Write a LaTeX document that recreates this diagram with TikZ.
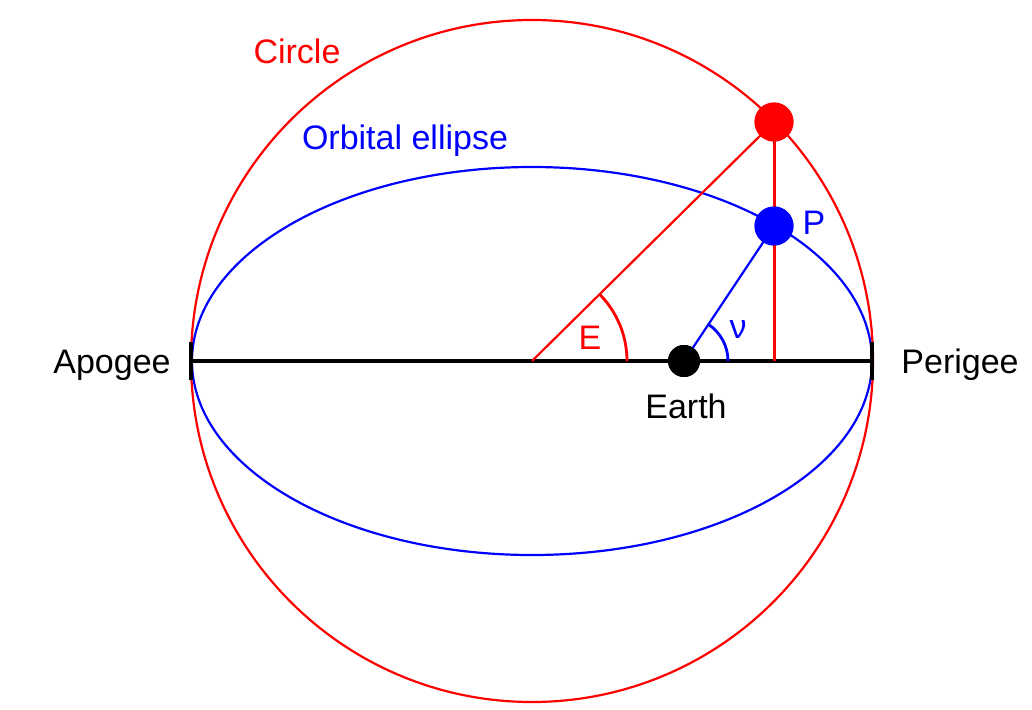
\documentclass[tikz,border=0pt]{standalone}
\usepackage{fontspec}
\setmainfont{Liberation Sans}
\begin{document}
\begin{tikzpicture}[x=0.5pt,y=0.5pt,
  lbl/.style={font=\fontsize{17}{20}\selectfont, inner sep=0pt, anchor=base},
  dot/.style={circle, inner sep=0pt, minimum size=19.5pt},
  thin line/.style={line width=1.1pt}]
\useasboundingbox (0,0) rectangle (1032,709);
% key points
\coordinate (O) at (532,348);
\coordinate (A) at (191,348);
\coordinate (Pe) at (872,348);
\coordinate (F) at (774,348);
% circle and ellipse
\draw[red, thin line] (O) circle[radius=170.5pt];
\draw[blue, thin line] (O) ellipse[x radius=170pt, y radius=97pt];
% nodes (dots)
\node[dot, fill=red] (R) at (774,587) {};
\node[dot, fill=blue] (P) at (774,483) {};
\node[dot, fill=black, minimum size=16pt] (Ea) at (684,348) {};
% major axis
\draw[line width=1.6pt] (A) -- (Pe);
\draw[line width=1.6pt] ([yshift=-9.5pt]A) -- ([yshift=9.5pt]A);
\draw[line width=1.6pt] ([yshift=-9.5pt]Pe) -- ([yshift=9.5pt]Pe);
% connectors
\draw[red, thin line] (O) -- (R.center);
\draw[red, line width=1.5pt] (R.center) -- (F);
\draw[blue, thin line] (Ea.center) -- (P.center);
% redraw dots on top
\node[dot, fill=red] at (R) {};
\node[dot, fill=blue] at (P) {};
\node[dot, fill=black, minimum size=16pt] at (Ea) {};
% angle arcs
\draw[red, line width=1.4pt] ([xshift=47.5pt]O) arc[start angle=0, end angle=44.6, radius=47.5pt];
\draw[blue, line width=1.4pt] ([xshift=22pt]Ea.center) arc[start angle=0, end angle=56.5, radius=22pt];
% labels
\node[lbl, red] (lc) at (297,646) {Circle};
\node[lbl, blue] (le) at (405,560) {Orbital ellipse};
\node[lbl] (la) at (112,336) {Apogee};
\node[lbl] (lp) at (960,336) {Perigee};
\node[lbl] (lea) at (686,291) {Earth};
\node[lbl, red] (lE) at (590,360) {E};
\node[lbl, blue] (lnu) at (738,371) {ν};
\node[lbl, blue] (lP) at (814,475) {P};
\end{tikzpicture}
\end{document}
